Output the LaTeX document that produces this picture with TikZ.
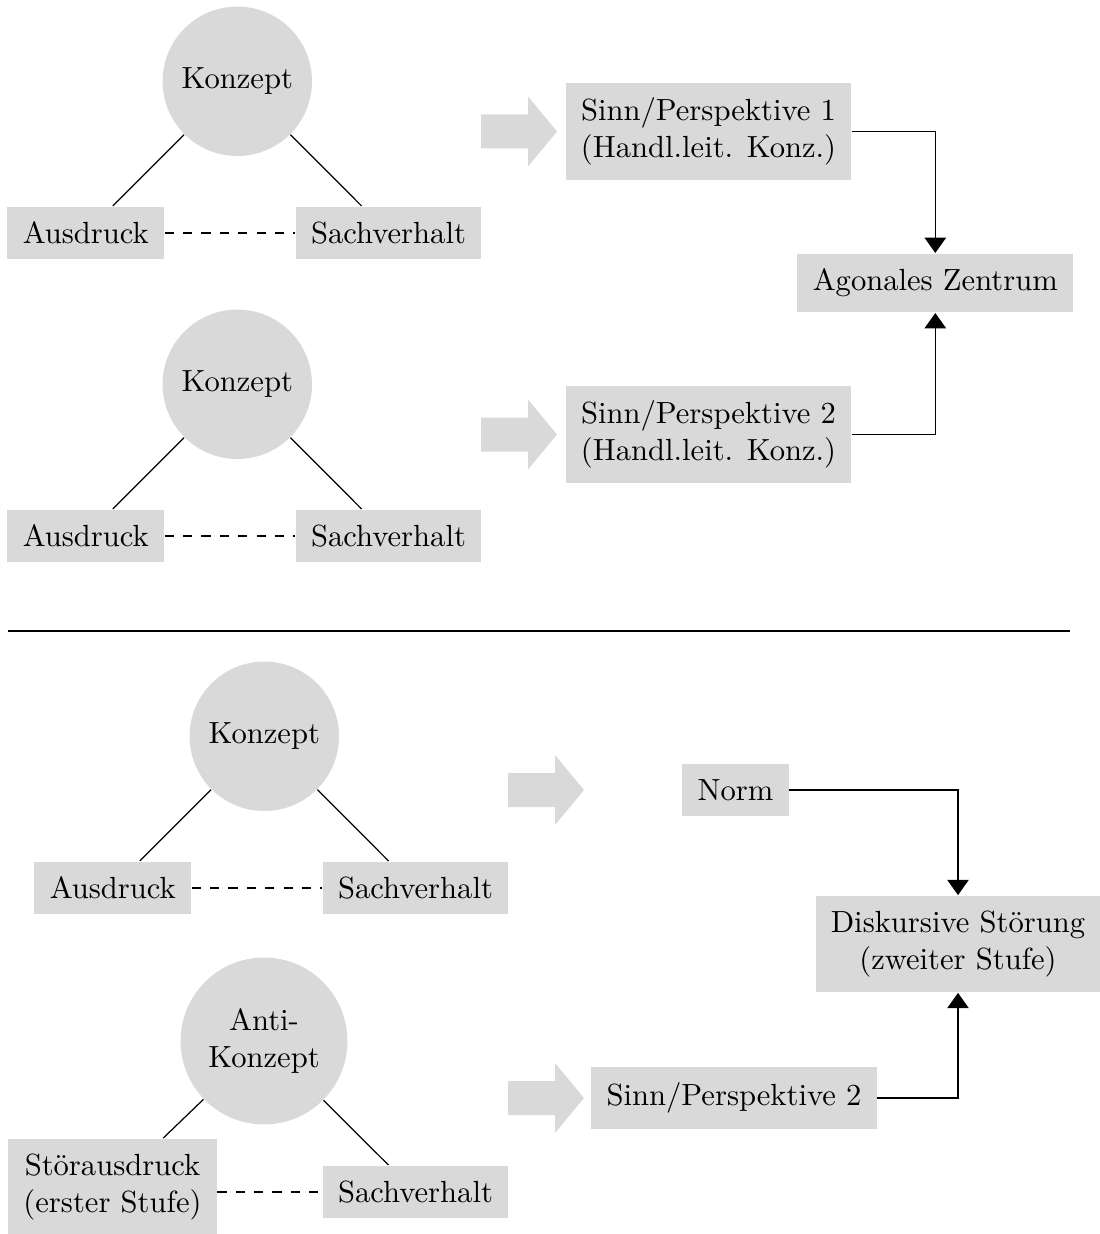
\documentclass[tikz,border=0pt]{standalone}
\usetikzlibrary{arrows.meta}
\begin{document}
\begin{tikzpicture}[x=0.3268pt, y=-0.3268pt,
  box/.style={fill=gray!30, inner sep=5pt, align=center},
  concept/.style={circle, fill=gray!30, inner sep=4.6pt, align=center},
  flow/.style={-{Triangle[width=7pt,length=5pt]}},
  fatarrow/.pic={\fill[gray!30] (0,-17) -- (47,-17) -- (47,-35) -- (76,0) -- (47,35) -- (47,17) -- (0,17) -- cycle;}]
\useasboundingbox (0,0) rectangle (1099,1234);

% Block 1
\node[concept] (k1) at (237.3,81.3) {Konzept};
\node[box] (a1) at (85.8,233) {Ausdruck};
\node[box] (s1) at (388.5,233) {Sachverhalt};
\draw (k1) -- (a1);
\draw (k1) -- (s1);
\draw[dashed] (a1) -- (s1);
\pic at (481,131.5) {fatarrow};
\node[box] (p1) at (708.5,131.5) {Sinn/Perspektive 1\\(Handl.leit. Konz.)};

\node[box] (az) at (935.3,283) {Agonales Zentrum};

% Block 2
\node[concept] (k2) at (237.3,384.3) {Konzept};
\node[box] (a2) at (85.8,536) {Ausdruck};
\node[box] (s2) at (388.5,536) {Sachverhalt};
\draw (k2) -- (a2);
\draw (k2) -- (s2);
\draw[dashed] (a2) -- (s2);
\pic at (481,434.5) {fatarrow};
\node[box] (p2) at (708.5,434.5) {Sinn/Perspektive 2\\(Handl.leit. Konz.)};

\draw[flow] (p1.east) -| (az.north);
\draw[flow] (p2.east) -| (az.south);

% Separator
\coordinate (sepL) at (8,631);
\coordinate (sepR) at (1070,631);
\draw (sepL) -- (sepR);

% Block 3
\node[concept] (k3) at (264.3,736.3) {Konzept};
\node[box] (a3) at (112.8,888) {Ausdruck};
\node[box] (s3) at (415.5,888) {Sachverhalt};
\draw (k3) -- (a3);
\draw (k3) -- (s3);
\draw[dashed] (a3) -- (s3);
\pic at (508,790) {fatarrow};
\node[box] (norm) at (735.5,790) {Norm};

\node[box] (disk) at (958,944) {Diskursive Störung\\(zweiter Stufe)};

% Block 4
\node[concept] (k4) at (264,1041) {Anti-\\Konzept};
\node[box] (stor) at (112.5,1187) {Störausdruck\\(erster Stufe)};
\node[box] (s4) at (415.5,1192) {Sachverhalt};
\draw (k4) -- (stor);
\draw (k4) -- (s4);
\draw[dashed] (stor.east |- s4.west) -- (s4.west);
\pic at (508,1098) {fatarrow};
\node[box] (p4) at (734,1098) {Sinn/Perspektive 2};

\draw[flow] (norm.east) -| (disk.north);
\draw[flow] (p4.east) -| (disk.south);
\end{tikzpicture}
\end{document}
